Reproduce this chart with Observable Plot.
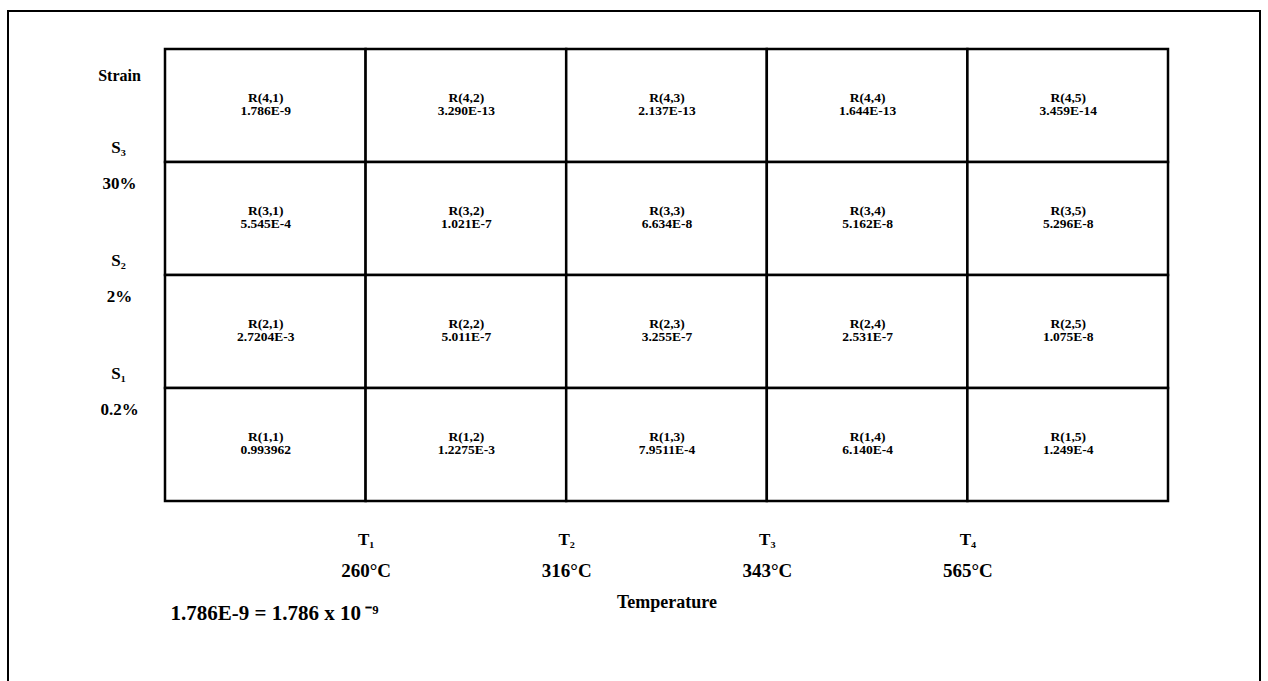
<!DOCTYPE html>
<html>
<head>
<meta charset="utf-8">
<script src="https://cdn.jsdelivr.net/npm/d3@7"></script>
<script src="https://cdn.jsdelivr.net/npm/@observablehq/plot@0.6"></script>
<style>
  html, body { margin: 0; padding: 0; background: #fff; overflow: hidden; }
  #wrap { position: relative; width: 1268px; height: 681px; }
  #outer { position: absolute; left: 7px; top: 10px; width: 1250px; height: 720px;
           border: 2.5px solid #000; pointer-events: none; z-index: 2; }
</style>
</head>
<body>
<div id="wrap"><div id="outer"></div><div id="chart"></div></div>
<script>
// Grid structure
const columns = [1, 2, 3, 4, 5];
const rows = [4, 3, 2, 1];
// Cell values by row (strain level), columns 1..5
const row4Values = ["1.786E-9", "3.290E-13", "2.137E-13", "1.644E-13", "3.459E-14"];
const row3Values = ["5.545E-4", "1.021E-7", "6.634E-8", "5.162E-8", "5.296E-8"];
const row2Values = ["2.7204E-3", "5.011E-7", "3.255E-7", "2.531E-7", "1.075E-8"];
const row1Values = ["0.993962", "1.2275E-3", "7.9511E-4", "6.140E-4", "1.249E-4"];
// Axis labels
const tempSymbols = ["T₁", "T₂", "T₃", "T₄"];
const tempLabels = ["260°C", "316°C", "343°C", "565°C"];
const tempBoundaries = [1, 2, 3, 4];
const strainSymbols = ["S₃", "S₂", "S₁"];
const strainLabels = ["30%", "2%", "0.2%"];
const strainBoundaries = [3, 2, 1];
const xTitle = "Temperature";
const yTitle = "Strain";
const footnote = "1.786E-9 = 1.786 x 10\u2009⁻⁹";

const valuesByRow = {4: row4Values, 3: row3Values, 2: row2Values, 1: row1Values};
const cells = [];
for (const r of rows) for (const c of columns) {
  cells.push({row: r, col: c, label: `R(${r},${c})`, value: valuesByRow[r][c - 1]});
}
const temps = tempBoundaries.map((b, i) => ({b, sym: tempSymbols[i], lab: tempLabels[i]}));
const strains = strainBoundaries.map((b, i) => ({b, sym: strainSymbols[i], lab: strainLabels[i]}));

const font = "'Liberation Serif', 'Times New Roman', serif";
const chart = Plot.plot({
  width: 1268, height: 681,
  marginLeft: 165, marginRight: 100, marginTop: 49, marginBottom: 180,
  x: {domain: [0, 5], axis: null},
  y: {domain: [0, 4], axis: null},
  style: {fontFamily: font, fontWeight: "bold", background: "transparent", color: "#000"},
  marks: [
    Plot.rect(cells, {x1: d => d.col - 1, x2: "col", y1: d => d.row - 1, y2: "row",
      fill: "white", stroke: "black", strokeWidth: 2.5}),
    Plot.text(cells, {x: d => d.col - 0.5, y: d => d.row - 0.5,
      text: d => d.label + "\n" + d.value, fontSize: 13.5, lineHeight: 0.97, dy: -2, fill: "black"}),
    Plot.text([yTitle], {text: d => d, frameAnchor: "top-left", textAnchor: "middle", lineAnchor: "middle",
      dx: -46, dy: 26, fontSize: 16}),
    Plot.text(strains, {y: "b", text: "sym", frameAnchor: "left", textAnchor: "middle", lineAnchor: "middle",
      dx: -47, dy: -15, fontSize: 17}),
    Plot.text(strains, {y: "b", text: "lab", frameAnchor: "left", textAnchor: "middle", lineAnchor: "middle",
      dx: -46, dy: 21, fontSize: 17}),
    Plot.text(temps, {x: "b", text: "sym", frameAnchor: "bottom", lineAnchor: "middle", dy: 38, fontSize: 17}),
    Plot.text(temps, {x: "b", text: "lab", frameAnchor: "bottom", lineAnchor: "middle", dy: 69, fontSize: 19}),
    Plot.text([xTitle], {text: d => d, frameAnchor: "bottom", lineAnchor: "middle", dy: 101, fontSize: 18}),
    Plot.text([footnote], {text: d => d, frameAnchor: "bottom-left", textAnchor: "start", lineAnchor: "middle",
      dx: 5, dy: 112, fontSize: 21})
  ]
});
document.getElementById("chart").appendChild(chart);
</script>
</body>
</html>
